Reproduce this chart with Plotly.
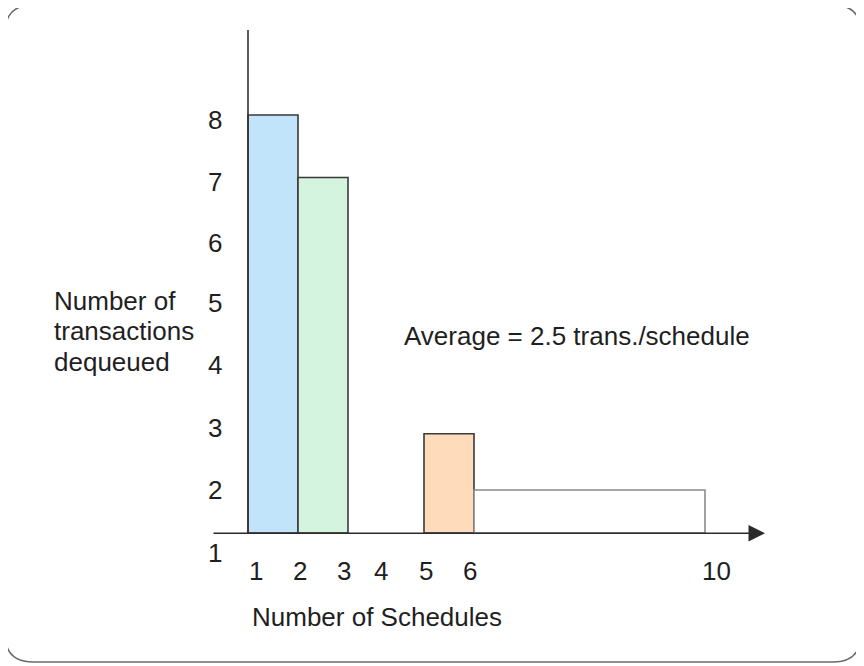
import plotly.graph_objects as go

# bars: start / end along the schedule axis (as drawn) and dequeued count
bar_start = [1, 2, 4.52, 5.52]
bar_end = [2, 3, 5.52, 10.14]
bar_value = [8, 7, 2.9, 2]
bar_fill = ["#c2e4fb", "#d5f4df", "#fedcbb", "#ffffff"]
bar_edge = ["#3a3a3a", "#3a3a3a", "#3a3a3a", "#8a8a8a"]

x_tick_text = ["1", "2", "3", "4", "5", "6", "10"]
x_tick_pos = [1.16, 2.04, 2.92, 3.66, 4.56, 5.44, 10.36]
y_tick_text = ["1", "2", "3", "4", "5", "6", "7", "8"]
y_tick_pos = [1, 2, 3, 4, 5, 5.95, 6.93, 7.92]

y_title_lines = ["Number of", "transactions", "dequeued"]
y_title_pos = [5.03, 4.55, 4.05]

axis_base = 1.31
W, H = 856, 658  # page adds an 8px body margin
FONT = "Liberation Sans, Arial, Helvetica, sans-serif"
TXT = "#1f1f1f"
FS = 26

fig = go.Figure()
fig.add_trace(go.Bar(
    x=[(s + e) / 2 for s, e in zip(bar_start, bar_end)],
    y=[v - axis_base for v in bar_value],
    width=[e - s for s, e in zip(bar_start, bar_end)],
    base=axis_base,
    marker=dict(color=bar_fill, line=dict(color=bar_edge, width=1.6)),
    hoverinfo="skip",
))

# axes drawn by hand like the sketch
fig.add_shape(type="line", x0=1, x1=1, y0=axis_base, y1=9.36,
              line=dict(color="#333333", width=1.6))
fig.add_annotation(x=11.34, y=axis_base, ax=0.28, ay=axis_base,
                   xref="x", yref="y", axref="x", ayref="y", text="",
                   showarrow=True, arrowhead=2, arrowsize=2.2, arrowwidth=1.5,
                   arrowcolor="#2a2a2a")

for t, p in zip(x_tick_text, x_tick_pos):
    fig.add_annotation(x=p, y=0.70, text=t, showarrow=False,
                       font=dict(size=FS, color=TXT, family=FONT))
for t, p in zip(y_tick_text, y_tick_pos):
    fig.add_annotation(x=0.34, y=p, text=t, showarrow=False,
                       font=dict(size=FS, color=TXT, family=FONT))
for t, p in zip(y_title_lines, y_title_pos):
    fig.add_annotation(x=-2.93, y=p, text=t, showarrow=False, xanchor="left",
                       font=dict(size=FS, color=TXT, family=FONT))

fig.add_annotation(x=3.57, y=-0.03, text="Number of Schedules", showarrow=False,
                   font=dict(size=FS, color=TXT, family=FONT))
fig.add_annotation(x=4.08, y=4.46, text="Average = 2.5 trans./schedule",
                   showarrow=False, xanchor="left",
                   font=dict(size=FS, color=TXT, family=FONT))

# rounded frame around the whole drawing (page pixel coordinates)
def px(x, y):
    return f"{(x - 8) / W:.5f},{1 - (y - 8) / H:.5f}"

l, r, t, b, rad = 5, 861, 5, 662, 28
frame = (f"M {px(l + rad, t)} L {px(r - rad, t)} Q {px(r, t)} {px(r, t + rad)} "
         f"L {px(r, b - rad)} Q {px(r, b)} {px(r - rad, b)} "
         f"L {px(l + rad, b)} Q {px(l, b)} {px(l, b - rad)} "
         f"L {px(l, t + rad)} Q {px(l, t)} {px(l + rad, t)} Z")
fig.add_shape(type="path", path=frame, xref="paper", yref="paper",
              line=dict(color="#6a6a6a", width=1.6))

fig.update_layout(
    width=W, height=H,
    margin=dict(l=0, r=0, t=0, b=0),
    paper_bgcolor="white", plot_bgcolor="white",
    showlegend=False,
    xaxis=dict(range=[1 - 240 / 50, 1 + 616 / 50], showgrid=False, zeroline=False,
               showticklabels=False, fixedrange=True),
    yaxis=dict(range=[8 - 551 / 62.5, 8 + 107 / 62.5], showgrid=False, zeroline=False,
               showticklabels=False, fixedrange=True),
)

fig.write_html("out.html", config={"displayModeBar": False})
